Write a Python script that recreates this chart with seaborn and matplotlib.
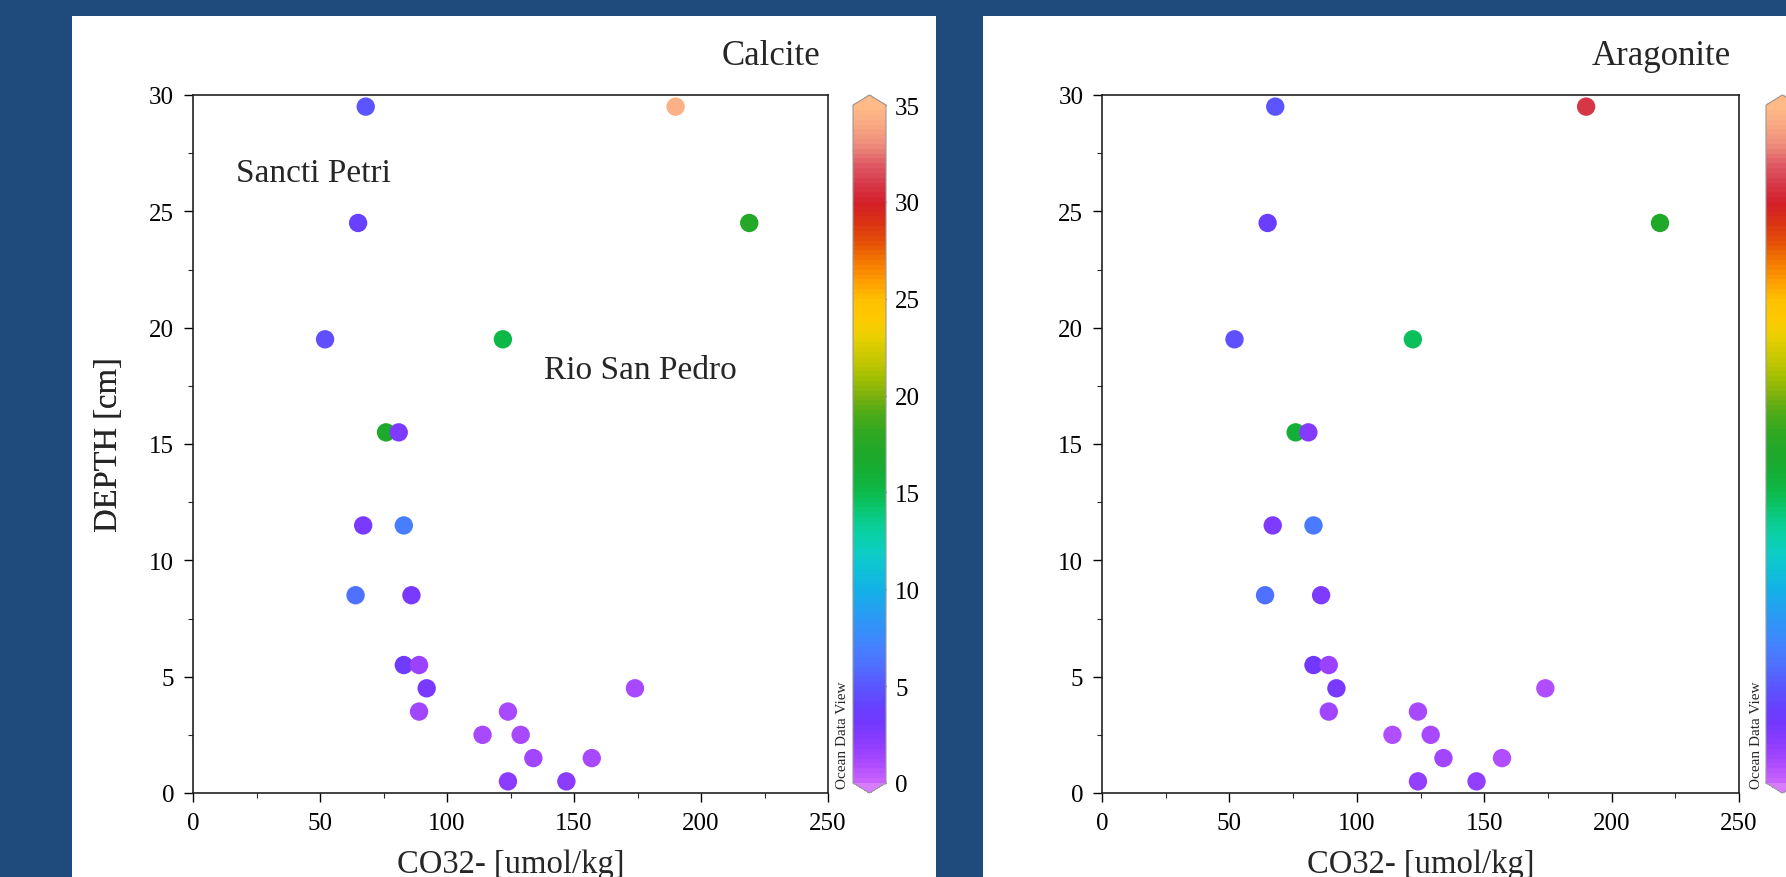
import matplotlib
matplotlib.use("Agg")
import matplotlib.pyplot as plt
from matplotlib.colors import LinearSegmentedColormap, Normalize
from matplotlib.patches import Rectangle
from matplotlib.ticker import MultipleLocator
import matplotlib.cm as cm
import numpy as np
import pandas as pd
import seaborn as sns

sns.set_style("ticks")
plt.rcParams['font.family'] = ['Liberation Serif', 'DejaVu Serif']

# data: two cores (Sancti Petri / Rio San Pedro)
depth = [29.5, 29.5, 24.5, 24.5, 19.5, 19.5, 15.5, 15.5, 11.5, 11.5, 8.5, 8.5,
         5.5, 5.5, 4.5, 4.5, 3.5, 3.5, 2.5, 2.5, 1.5, 1.5, 0.5, 0.5]
co3 = [68, 190, 65, 219, 52, 122, 76, 81, 67, 83, 64, 86,
       83, 89, 92, 174, 89, 124, 114, 129, 134, 157, 124, 147]
calcite = [4.9, 34.3, 3.8, 17.3, 4.6, 15.2, 16.8, 2.7, 2.8, 6.8, 6.2, 2.8,
           3.4, 1.7, 2.9, 1.0, 1.3, 1.1, 1.0, 1.1, 1.3, 1.0, 2.0, 2.0]
aragonite = [3.4, 22.1, 2.6, 12.2, 3.3, 10.4, 11.4, 1.7, 1.8, 4.8, 4.4, 1.9,
             2.3, 1.1, 2.0, 0.7, 0.9, 0.8, 0.7, 0.8, 0.9, 0.7, 1.4, 1.4]

calc_ticks = [0, 5, 10, 15, 20, 25, 30, 35]
arag_ticks = [0, 5, 10, 15, 20, 25]

# ODV-like rainbow
odv_colors = ['#C862FF', '#A848FF', '#8C3CFF', '#7338FF', '#6444FF', '#5A58FF',
              '#5070FF', '#4482FF', '#3292F8', '#22A2F0', '#12B2E6', '#0EC2D6',
              '#0ACFC0', '#0AD0A0', '#0AC878', '#0CBA48', '#14AE34', '#1EA82A',
              '#2EA822', '#4AAA18', '#7CB00E', '#A4C000', '#C8C800', '#E8D000',
              '#FFCA00', '#FFC000', '#FF9C00', '#F47800', '#E45008', '#DA3214',
              '#D41E28', '#D63848', '#DE5864', '#EC8A7A', '#F8A682', '#FFBA88']
odv = LinearSegmentedColormap.from_list('odv', odv_colors, N=140)
odv.set_under('#D87CFF')
odv.set_over('#FFBA88')

W, H = 1786, 878
fig = plt.figure(figsize=(W / 100, H / 100), dpi=100, facecolor='#1F4A7C')

# white slide panels
fig.add_artist(Rectangle((72 / W, 0), (936 - 72) / W, (H - 17) / H,
                         transform=fig.transFigure, facecolor='white', edgecolor='none', zorder=0))
fig.add_artist(Rectangle((983 / W, 0), (W - 983) / W, (H - 17) / H,
                         transform=fig.transFigure, facecolor='white', edgecolor='none', zorder=0))


def panel(x0, x1, cx0, values, vmax, ticks, title, title_x, cbar_labels=True):
    ax = fig.add_axes([x0 / W, (H - 794) / H, (x1 - x0) / W, 698 / H])
    cax = fig.add_axes([cx0 / W, (H - 794) / H, 33 / W, 698 / H])
    ax.set_facecolor('white')
    norm = Normalize(vmin=0, vmax=vmax)
    df = pd.DataFrame({'co3': co3, 'depth': depth, 'omega': values})
    sns.scatterplot(data=df, x='co3', y='depth', hue='omega', palette=odv,
                    hue_norm=norm, s=175, linewidth=0, legend=False, ax=ax)
    ax.set_xlim(0, 250)
    ax.set_ylim(0, 30)
    ax.xaxis.set_major_locator(MultipleLocator(50))
    ax.xaxis.set_minor_locator(MultipleLocator(25))
    ax.yaxis.set_major_locator(MultipleLocator(5))
    ax.yaxis.set_minor_locator(MultipleLocator(2.5))
    ax.tick_params(which='major', direction='out', length=6.5, width=1, pad=7,
                   labelsize=18, colors='black')
    ax.tick_params(which='minor', direction='out', length=3.5, width=0.8)
    for s in ax.spines.values():
        s.set_visible(True)
        s.set_linewidth(1.2)
        s.set_color('#222222')
    ax.set_xlabel('CO32- [umol/kg]', fontsize=23.5)
    ax.set_ylabel('DEPTH [cm]', fontsize=23.5)
    ax.xaxis.set_label_coords(0.5, (794 - 850) / 698)
    ax.yaxis.set_label_coords((124 - x0) / (x1 - x0), 0.5)

    sm = cm.ScalarMappable(norm=norm, cmap=odv)
    cb = fig.colorbar(sm, cax=cax, extend='both', extendfrac=0.015, ticks=ticks)
    cb.outline.set_linewidth(0.8)
    cb.outline.set_edgecolor('#999999')
    cax.tick_params(left=True, right=True, direction='in', length=5, width=1,
                    pad=6.5, labelsize=18, colors='#222222', labelcolor='black',
                    labelright=cbar_labels)

    fig.text((cx0 - 10) / W, (H - 789) / H, 'Ocean Data View', rotation=90,
             fontsize=11, ha='center', va='bottom')
    fig.text(title_x / W, (H - 65) / H, title, fontsize=25, ha='right', va='baseline')
    return ax


ax1 = panel(193, 828, 853, calcite, 35, calc_ticks, 'Calcite', 820)
# right colorbar runs off the slide edge, its labels are not visible
ax2 = panel(1102, 1739, 1766, aragonite, 25, arag_ticks, 'Aragonite', 1731, cbar_labels=False)

ax1.text(17, 26.3, 'Sancti Petri', fontsize=24, ha='left', va='baseline')
ax1.text(138, 17.85, 'Rio San Pedro', fontsize=24, ha='left', va='baseline')

fig.savefig('out.png', dpi=100, facecolor=fig.get_facecolor())
